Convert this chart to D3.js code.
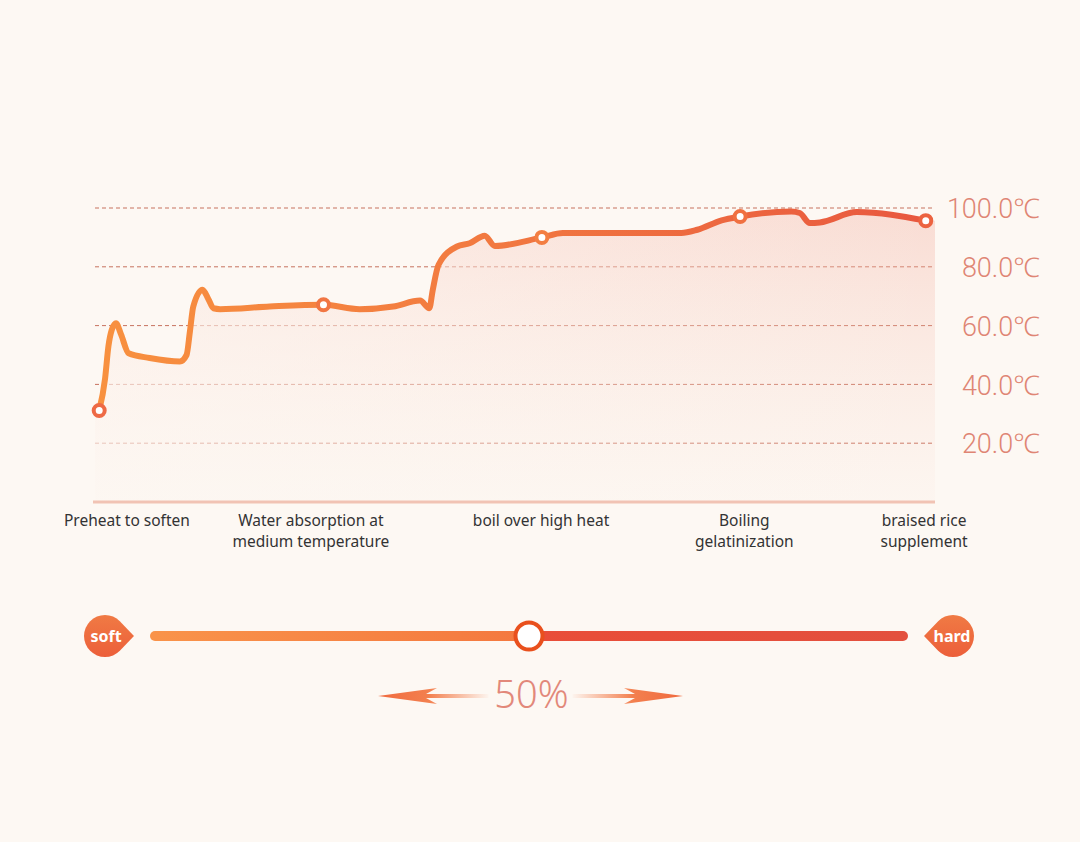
<!DOCTYPE html>
<html lang="en">
  <head>
    <meta charset="UTF-8" />
    <title>Cooking curve</title>
  </head>
  <style>
    * {
      margin: 0;
      padding: 0;
    }
    body {
      background: #fdf8f3;
    }
  </style>
  <body>
    <div id="chart"></div>
  </body>
  <script src="https://d3js.org/d3.v7.min.js"></script>
  <script>
    // progress along the cooking program (0-100) and temperature in ℃
    const progress = [0.5, 1.2, 1.6, 2.0, 2.5, 3.1, 4.0, 6.5, 10.1, 10.9, 11.3, 11.7, 12.8, 13.5, 14.1, 14.9, 20.8, 27.2, 31.5, 35.5, 38.7, 39.8, 40.2, 40.9, 43.1, 44.6, 46.4, 47.6, 53.2, 55.7, 69.8, 71.7, 74.6, 76.8, 82.9, 83.9, 85.1, 86.3, 90.7, 98.9];
    const temps = [31.1, 42, 53, 58.6, 60.8, 57, 50.6, 49, 47.8, 50, 58, 66.5, 72.2, 69, 65.9, 65.6, 66.5, 67.1, 65.6, 66.5, 68.5, 65.9, 72, 80.7, 86.9, 88, 90.6, 87.1, 90, 91.5, 91.5, 92.6, 95.8, 97.1, 98.8, 98.3, 94.9, 95.1, 98.6, 95.7];
    // which points carry a round marker
    const markerIndex = [0, 17, 28, 33, 39];

    const stages = ["Preheat to soften", "Water absorption at|medium temperature", "boil over high heat", "Boiling|gelatinization", "braised rice|supplement"];
    const stagePos = [3.8, 25.7, 53.1, 77.3, 98.7];

    const tempTicks = [20, 40, 60, 80, 100];

    const hardness = 50; // percent between soft and hard
    const ends = ["soft", "hard"];

    const width = 1080;
    const height = 842;

    const svg = d3.select("#chart").append("svg")
      .attr("width", width)
      .attr("height", height)
      .style("display", "block");

    svg.append("rect").attr("width", width).attr("height", height).attr("fill", "#fdf8f3");

    const x = d3.scaleLinear().domain([0, 100]).range([95, 935]);
    const y = d3.scaleLinear().domain([0, 100]).range([502, 208]);

    const defs = svg.append("defs");

    const lineGrad = defs.append("linearGradient")
      .attr("id", "lineGrad")
      .attr("gradientUnits", "userSpaceOnUse")
      .attr("x1", x(0)).attr("x2", x(100)).attr("y1", 0).attr("y2", 0);
    lineGrad.append("stop").attr("offset", "0%").attr("stop-color", "#f8913f");
    lineGrad.append("stop").attr("offset", "45%").attr("stop-color", "#f27a40");
    lineGrad.append("stop").attr("offset", "100%").attr("stop-color", "#e8573f");

    const areaGrad = defs.append("linearGradient")
      .attr("id", "areaGrad")
      .attr("x1", 0).attr("x2", 0).attr("y1", 0).attr("y2", 1);
    areaGrad.append("stop").attr("offset", "0%").attr("stop-color", "#f2a898").attr("stop-opacity", 0.35);
    areaGrad.append("stop").attr("offset", "100%").attr("stop-color", "#f6c8b8").attr("stop-opacity", 0.05);

    const areaSide = defs.append("linearGradient")
      .attr("id", "areaSide")
      .attr("x1", 0).attr("x2", 1).attr("y1", 0).attr("y2", 0);
    areaSide.append("stop").attr("offset", "0%").attr("stop-color", "#fdf8f3").attr("stop-opacity", 0.6);
    areaSide.append("stop").attr("offset", "100%").attr("stop-color", "#fdf8f3").attr("stop-opacity", 0);

    // grid lines
    svg.append("g")
      .selectAll("line")
      .data(tempTicks)
      .join("line")
      .attr("x1", x(0))
      .attr("x2", x(100))
      .attr("y1", (d) => y(d))
      .attr("y2", (d) => y(d))
      .attr("stroke", "#c7725f")
      .attr("stroke-width", 1)
      .attr("stroke-dasharray", "4,3");

    const pts = progress.map((p, i) => ({ p: p, t: temps[i] }));

    // area under the curve
    const areaPts = [{ p: 0, t: pts[0].t }].concat(pts, [{ p: 100, t: pts[pts.length - 1].t }]);
    const area = d3.area()
      .x((d) => x(d.p))
      .y0(y(0))
      .y1((d) => y(d.t))
      .curve(d3.curveMonotoneX);
    svg.append("path").datum(areaPts).attr("d", area).attr("fill", "url(#areaGrad)");
    svg.append("path").datum(areaPts).attr("d", area).attr("fill", "url(#areaSide)");

    // baseline
    svg.append("line")
      .attr("x1", x(0) - 2).attr("x2", x(100))
      .attr("y1", y(0)).attr("y2", y(0))
      .attr("stroke", "#f1c3b4")
      .attr("stroke-width", 3);

    const line = d3.line()
      .x((d) => x(d.p))
      .y((d) => y(d.t))
      .curve(d3.curveMonotoneX);

    svg.append("path")
      .datum(pts)
      .attr("d", line)
      .attr("fill", "none")
      .attr("stroke", "url(#lineGrad)")
      .attr("stroke-width", 6)
      .attr("stroke-linecap", "round")
      .attr("stroke-linejoin", "round");

    const markerColor = d3.scaleLinear().domain([0, 50, 100]).range(["#ee6a45", "#f48042", "#ec6240"]);
    svg.append("g")
      .selectAll("circle")
      .data(markerIndex.map((i) => pts[i]))
      .join("circle")
      .attr("cx", (d) => x(d.p))
      .attr("cy", (d) => y(d.t))
      .attr("r", 5.5)
      .attr("fill", "#fff")
      .attr("stroke", (d) => markerColor(d.p))
      .attr("stroke-width", 4);

    // right axis labels
    const yAxis = d3.axisRight(y)
      .tickValues(tempTicks)
      .tickSize(0)
      .tickFormat((d) => d.toFixed(1) + "℃");
    const yg = svg.append("g").attr("transform", "translate(1040,0)").call(yAxis);
    yg.select(".domain").remove();
    yg.selectAll("text")
      .attr("x", 0)
      .attr("dy", "0.36em")
      .attr("text-anchor", "end")
      .attr("fill", "#df8574")
      .attr("font-family", "Roboto, 'Noto Sans', sans-serif")
      .attr("font-weight", 300)
      .attr("font-size", "27px");

    // stage labels
    const stageG = svg.append("g")
      .selectAll("text")
      .data(stages)
      .join("text")
      .attr("x", (d, i) => x(stagePos[i]))
      .attr("y", 526)
      .attr("text-anchor", "middle")
      .attr("fill", "#333")
      .attr("font-family", "'Noto Sans', 'Open Sans', sans-serif")
      .attr("font-size", "15.5px");
    stageG.each(function (d, i) {
      const t = d3.select(this);
      d.split("|").forEach((s, k) => {
        t.append("tspan")
          .attr("x", x(stagePos[i]))
          .attr("dy", k === 0 ? 0 : 21)
          .text(s);
      });
    });

    // hardness slider
    const sx = d3.scaleLinear().domain([0, 100]).range([155, 903]);
    const sy = 636;

    const leftGrad = defs.append("linearGradient")
      .attr("id", "leftGrad")
      .attr("gradientUnits", "userSpaceOnUse")
      .attr("x1", sx(0)).attr("x2", sx(hardness)).attr("y1", 0).attr("y2", 0);
    leftGrad.append("stop").attr("offset", "0%").attr("stop-color", "#f9934a");
    leftGrad.append("stop").attr("offset", "100%").attr("stop-color", "#f4783f");
    const rightGrad = defs.append("linearGradient")
      .attr("id", "rightGrad")
      .attr("gradientUnits", "userSpaceOnUse")
      .attr("x1", sx(hardness)).attr("x2", sx(100)).attr("y1", 0).attr("y2", 0);
    rightGrad.append("stop").attr("offset", "0%").attr("stop-color", "#e94d38");
    rightGrad.append("stop").attr("offset", "100%").attr("stop-color", "#e3503e");

    svg.append("line")
      .attr("x1", sx(0)).attr("x2", sx(hardness))
      .attr("y1", sy).attr("y2", sy)
      .attr("stroke", "url(#leftGrad)")
      .attr("stroke-width", 10)
      .attr("stroke-linecap", "round");
    svg.append("line")
      .attr("x1", sx(hardness)).attr("x2", sx(100))
      .attr("y1", sy).attr("y2", sy)
      .attr("stroke", "url(#rightGrad)")
      .attr("stroke-width", 10)
      .attr("stroke-linecap", "round");

    svg.append("circle")
      .attr("cx", sx(hardness))
      .attr("cy", sy)
      .attr("r", 13.5)
      .attr("fill", "#fff")
      .attr("stroke", "#e9501d")
      .attr("stroke-width", 4);

    // soft / hard drop badges
    const badgeGrad = defs.append("linearGradient")
      .attr("id", "badgeGrad")
      .attr("x1", 0).attr("x2", 0).attr("y1", 0).attr("y2", 1);
    badgeGrad.append("stop").attr("offset", "0%").attr("stop-color", "#f07a44");
    badgeGrad.append("stop").attr("offset", "100%").attr("stop-color", "#ec5f3a");

    const r = 21;
    function drop(dir) {
      // circle with a pointed tip towards the track
      const a = Math.PI / 4;
      const tip = r * 1.38;
      return "M" + (dir * r * Math.cos(a)) + "," + (-r * Math.sin(a)) +
        "L" + (dir * tip) + ",0" +
        "L" + (dir * r * Math.cos(a)) + "," + (r * Math.sin(a)) +
        "A" + r + "," + r + " 0 1 " + (dir > 0 ? 1 : 0) + " " + (dir * r * Math.cos(a)) + "," + (-r * Math.sin(a)) + "Z";
    }
    const badges = svg.append("g")
      .selectAll("g")
      .data(ends)
      .join("g")
      .attr("transform", (d, i) => "translate(" + (i === 0 ? sx(0) - 50 : sx(100) + 50) + "," + sy + ")");
    badges.append("path")
      .attr("d", (d, i) => drop(i === 0 ? 1 : -1))
      .attr("fill", "url(#badgeGrad)");
    badges.append("text")
      .text((d) => d)
      .attr("x", (d, i) => (i === 0 ? 1 : -1))
      .attr("y", 5.5)
      .attr("text-anchor", "middle")
      .attr("fill", "#fff")
      .attr("font-family", "'Noto Sans', sans-serif")
      .attr("font-weight", 700)
      .attr("font-size", "16px");

    // percentage with arrows
    const ax = d3.scaleLinear().domain([0, 100]).range([378, 683]);
    const ay = 696;
    const cx = (ax(0) + ax(100)) / 2;

    svg.append("text")
      .text(hardness + "%")
      .attr("x", cx + 1)
      .attr("y", 708)
      .attr("text-anchor", "middle")
      .attr("fill", "#e2887a")
      .attr("font-family", "'Noto Sans', sans-serif")
      .attr("font-weight", 300)
      .attr("font-size", "38px");

    [-1, 1].forEach(function (dir) {
      const tipX = dir < 0 ? ax(0) : ax(100);
      const g = defs.append("linearGradient")
        .attr("id", "arrow" + dir)
        .attr("gradientUnits", "userSpaceOnUse")
        .attr("x1", tipX).attr("x2", cx + dir * 40).attr("y1", 0).attr("y2", 0);
      g.append("stop").attr("offset", "0%").attr("stop-color", "#f06a3e");
      g.append("stop").attr("offset", "45%").attr("stop-color", "#f3804f");
      g.append("stop").attr("offset", "100%").attr("stop-color", "#fdf8f3");

      const back = tipX - dir * 59;
      const notch = tipX - dir * 48;
      const shaftEnd = cx + dir * 42;
      const p = d3.path();
      p.moveTo(tipX, ay);
      p.lineTo(back, ay - 8);
      p.lineTo(notch, ay - 2);
      p.lineTo(shaftEnd, ay - 2);
      p.lineTo(shaftEnd, ay + 2);
      p.lineTo(notch, ay + 2);
      p.lineTo(back, ay + 8);
      p.closePath();
      svg.append("path")
        .attr("d", p.toString())
        .attr("fill", "url(#arrow" + dir + ")");
    });
  </script>
</html>
